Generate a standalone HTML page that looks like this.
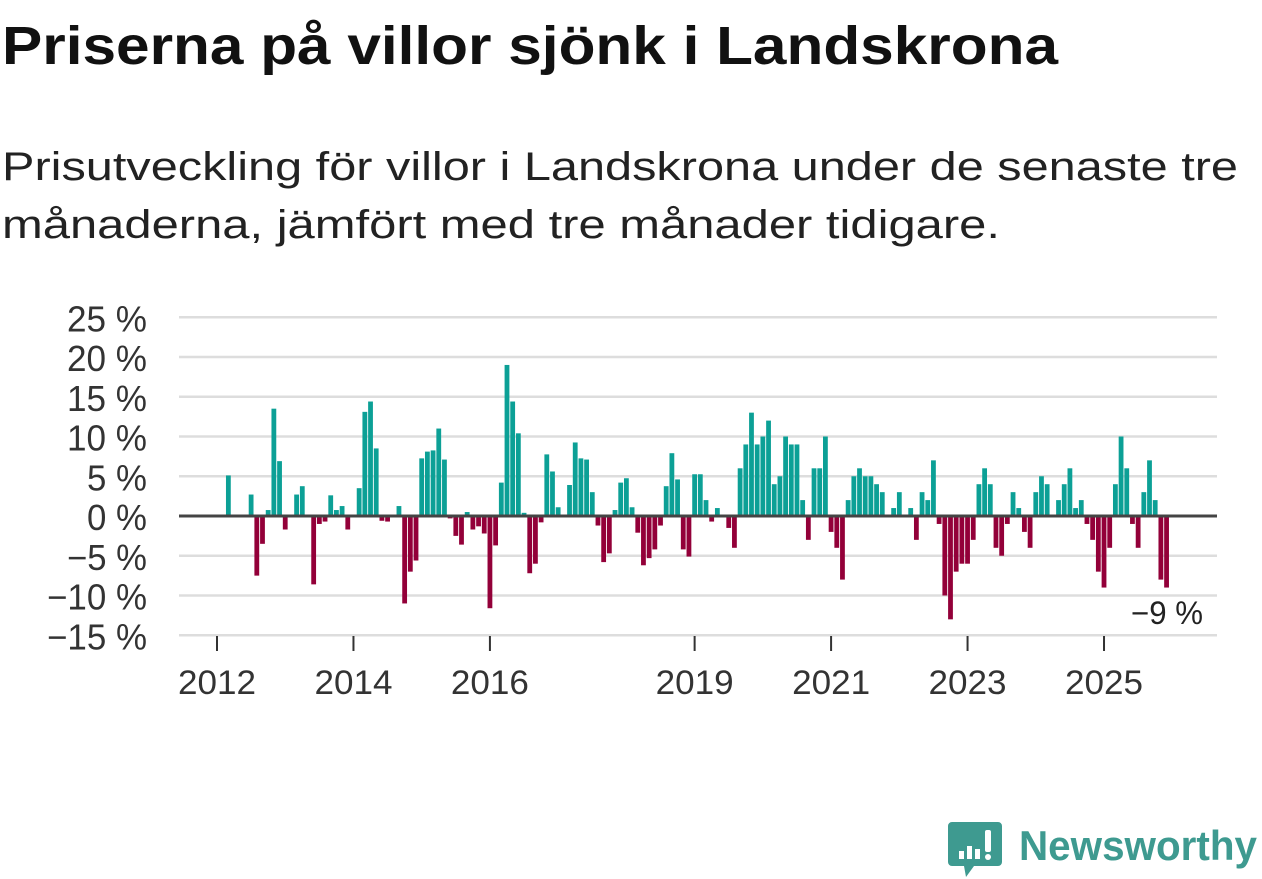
<!DOCTYPE html>
<html><head><meta charset="utf-8"><style>
html,body{margin:0;padding:0;background:#fff;}
svg{display:block;font-family:"Liberation Sans",sans-serif;}
</style></head><body>
<svg id="chart" width="1262" height="879" viewBox="0 0 1262 879" xmlns="http://www.w3.org/2000/svg">
<text x="2" y="64" font-size="54" font-weight="bold" fill="#111" textLength="1056" lengthAdjust="spacingAndGlyphs">Priserna på villor sjönk i Landskrona</text>
<text x="2" y="180" font-size="40" fill="#222" textLength="1236" lengthAdjust="spacingAndGlyphs">Prisutveckling för villor i Landskrona under de senaste tre</text>
<text x="2" y="238" font-size="40" fill="#222" textLength="998" lengthAdjust="spacingAndGlyphs">månaderna, jämfört med tre månader tidigare.</text>
<g id="grid"></g>
<g id="ylabels"></g>
<g id="bars"></g>
<line id="zero" x1="179" x2="1217" stroke="#444" stroke-width="3"/>
<g id="xaxis"></g>
<text x="1131" y="624" font-size="32" fill="#222" textLength="72" lengthAdjust="spacingAndGlyphs" stroke="#fff" stroke-width="6" paint-order="stroke">−9 %</text>
<g>
<path d="M952 822 h46 a4 4 0 0 1 4 4 v36 a4 4 0 0 1 -4 4 h-24 l-8 11 l-2 -11 h-12 a4 4 0 0 1 -4 -4 v-36 a4 4 0 0 1 4 -4z" fill="#3e9a90"/>
<rect x="959" y="851" width="5" height="8" fill="#fff"/>
<rect x="967" y="846" width="5" height="13" fill="#fff"/>
<rect x="975" y="849" width="5" height="10" fill="#fff"/>
<rect x="985" y="830" width="6" height="22" rx="2" fill="#fff"/>
<circle cx="988" cy="857" r="3" fill="#fff"/>
<text x="1019" y="860" font-size="42" font-weight="bold" fill="#3e9a90" textLength="238" lengthAdjust="spacingAndGlyphs">Newsworthy</text>
</g>
</svg>
<script>
const yTicks = [25, 20, 15, 10, 5, 0, -5, -10, -15];
const yearLabels = ["2012", "2014", "2016", "2019", "2021", "2023", "2025"];
const yearMonthIndex = [0, 24, 48, 84, 108, 132, 156];
const startIndex = 0;
const values = [null,null,5.1,null,null,null,2.7,-7.5,-3.5,0.75,13.5,6.9,-1.7,null,2.7,3.75,null,-8.6,-1,-0.7,2.6,0.75,1.25,-1.7,null,3.5,13.1,14.4,8.5,-0.6,-0.7,null,1.25,-11,-7,-5.6,7.25,8.1,8.25,11,7.1,-0.3,-2.5,-3.6,0.5,-1.7,-1.3,-2.2,-11.6,-3.7,4.2,19,14.4,10.4,0.4,-7.2,-6,-0.8,7.75,5.6,1.1,null,3.9,9.25,7.25,7.1,3,-1.2,-5.8,-4.7,0.75,4.2,4.75,1.1,-2.1,-6.2,-5.3,-4.2,-1.2,3.75,7.9,4.6,-4.2,-5.1,5.25,5.25,2,-0.7,1,null,-1.5,-4,6,9,13,9,10,12,4,5,10,9,9,2,-3,6,6,10,-2,-4,-8,2,5,6,5,5,4,3,null,1,3,null,1,-3,3,2,7,-1,-10,-13,-7,-6,-6,-3,4,6,4,-4,-5,-1,3,1,-2,-4,3,5,4,null,2,4,6,1,2,-1,-3,-7,-9,-4,4,10,6,-1,-4,3,7,2,-8,-9];

const NS = "http://www.w3.org/2000/svg";
const y = v => 516 - v * 7.95;
const x = i => 217 + i * 5.686;
function mk(tag, attrs, parent){const e=document.createElementNS(NS,tag);for(const k in attrs)e.setAttribute(k,attrs[k]);parent.appendChild(e);return e;}
const grid=document.getElementById('grid'), yl=document.getElementById('ylabels'), bars=document.getElementById('bars'), xa=document.getElementById('xaxis');
yTicks.forEach(t=>{
  const l=mk('line',{x1:179,x2:1217,y1:y(t),y2:y(t),stroke:'#ddd','stroke-width':2.5},grid);
  
  
  const s=(t<0?'−'+Math.abs(t):String(t))+' %';
  const w=20*s.length;
  const tx=mk('text',{x:147-w,y:y(t)+14,'font-size':36,fill:'#333',textLength:w,lengthAdjust:'spacingAndGlyphs'},yl);
  tx.textContent=s;
  
  
});
const z=document.getElementById('zero'); z.setAttribute('y1',y(0)); z.setAttribute('y2',y(0));
values.forEach((v,k)=>{
  if(v===null||v===0)return;
  const i=startIndex+k, top=Math.min(y(v),y(0)), h=Math.abs(y(v)-y(0));
  const r=mk('rect',{x:x(i)-2.4,y:top,width:4.8,height:h,fill:v>0?'#0ca096':'#930039'},bars);
  
  
});
yearLabels.forEach((lab,j)=>{
  const xx=x(yearMonthIndex[j]);
  const t=mk('line',{x1:xx,x2:xx,y1:636,y2:651,stroke:'#333','stroke-width':2},xa);
  
  
  const tx=mk('text',{x:xx-39,y:694,'font-size':34,fill:'#333',textLength:78,lengthAdjust:'spacingAndGlyphs'},xa);
  tx.textContent=lab;
  
  
});
</script>
</body></html>
